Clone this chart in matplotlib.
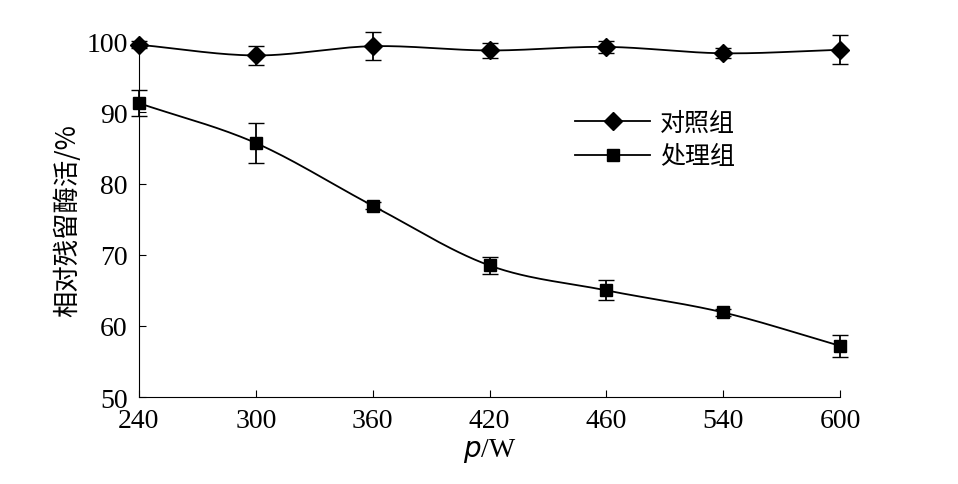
import matplotlib
matplotlib.use("Agg")
import matplotlib.pyplot as plt
import numpy as np

plt.rcParams['font.family'] = ['Liberation Serif', 'Noto Sans CJK SC', 'DejaVu Sans']

power_labels = ['240', '300', '360', '420', '460', '540', '600']
control = [99.5, 98.0, 99.3, 98.7, 99.2, 98.3, 98.8]
control_err = [0.5, 1.3, 2.0, 1.0, 0.8, 0.7, 2.0]
treated = [91.3, 85.7, 76.9, 68.5, 65.0, 61.9, 57.2]
treated_err = [1.8, 2.8, 0.5, 1.2, 1.4, 0.5, 1.5]


def smooth(y, n=30):
    # catmull-rom curve through the points, for the drawn line only
    y = np.asarray(y, float)
    p = np.concatenate([[2 * y[0] - y[1]], y, [2 * y[-1] - y[-2]]])
    xs, ys = [], []
    for i in range(len(y) - 1):
        t = np.linspace(0, 1, n, endpoint=False)
        p0, p1, p2, p3 = p[i], p[i + 1], p[i + 2], p[i + 3]
        ys.append(0.5 * (2 * p1 + (-p0 + p2) * t + (2 * p0 - 5 * p1 + 4 * p2 - p3) * t ** 2
                         + (-p0 + 3 * p1 - 3 * p2 + p3) * t ** 3))
        xs.append(i + t)
    xs.append([len(y) - 1]); ys.append([y[-1]])
    return np.concatenate(xs), np.concatenate(ys)


x = np.arange(len(power_labels))
fig = plt.figure(figsize=(9.58, 4.85), dpi=100)
ax = fig.add_axes([0.145, 0.179, 0.732, 0.734])

for vals, err, mk, lab in [(control, control_err, 'D', '对照组'), (treated, treated_err, 's', '处理组')]:
    sx, sy = smooth(vals)
    ax.plot(sx, sy, color='black', lw=1.3, clip_on=False)
    ax.errorbar(x, vals, yerr=err, fmt=mk, color='black', ms=9, capsize=6,
                elinewidth=1.3, clip_on=False)
    ax.plot([], [], color='black', marker=mk, ms=9, lw=1.3, label=lab)

ax.set_xlim(0, 6)
ax.set_ylim(50, 100)
ax.set_xticks(x)
ax.set_xticklabels(power_labels)
ax.set_yticks([50, 60, 70, 80, 90, 100])
ax.tick_params(direction='in', labelsize=20, length=5)
ax.tick_params(axis='x', pad=8)
ax.tick_params(axis='y', pad=8)
ax.spines['top'].set_visible(False)
ax.spines['right'].set_visible(False)
ax.set_xlabel('$p$/W', fontsize=20, labelpad=2)
ax.set_ylabel('相对残留酶活/%', fontsize=19, family=['Noto Sans CJK SC', 'DejaVu Sans'])
ax.legend(loc='upper left', bbox_to_anchor=(0.59, 0.87), frameon=False,
          prop={'family': ['Noto Sans CJK SC'], 'size': 18}, handlelength=3.0,
          handletextpad=0.4, labelspacing=0.3)

fig.savefig('out.png', dpi=100)
